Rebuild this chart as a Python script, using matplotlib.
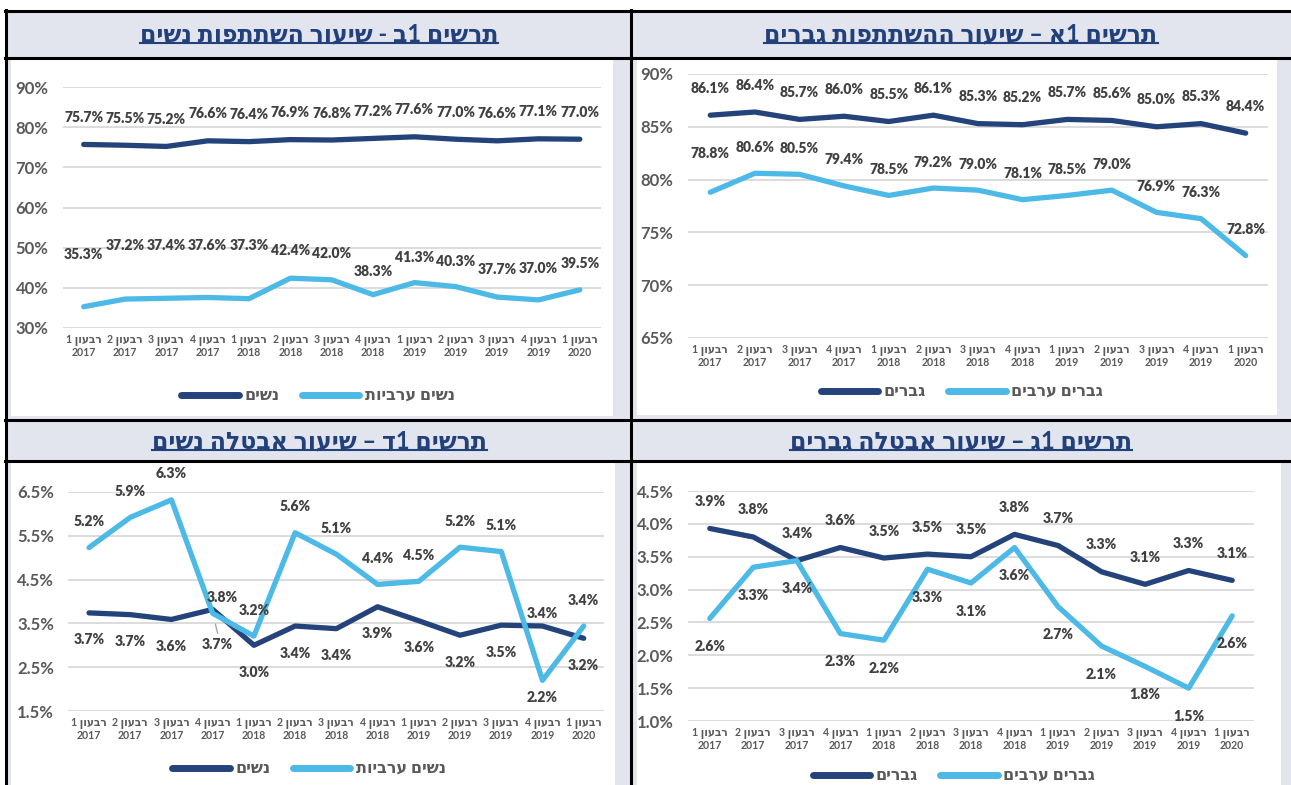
import re
import matplotlib
matplotlib.use('Agg')
import matplotlib.pyplot as plt
from matplotlib.lines import Line2D
from matplotlib.patches import Rectangle

# ---------------- data ----------------
quarters = ['רבעון 1\n2017', 'רבעון 2\n2017', 'רבעון 3\n2017', 'רבעון 4\n2017',
            'רבעון 1\n2018', 'רבעון 2\n2018', 'רבעון 3\n2018', 'רבעון 4\n2018',
            'רבעון 1\n2019', 'רבעון 2\n2019', 'רבעון 3\n2019', 'רבעון 4\n2019',
            'רבעון 1\n2020']

women_part = [75.7, 75.5, 75.2, 76.6, 76.4, 76.9, 76.8, 77.2, 77.6, 77.0, 76.6, 77.1, 77.0]
arab_women_part = [35.3, 37.2, 37.4, 37.6, 37.3, 42.4, 42.0, 38.3, 41.3, 40.3, 37.7, 37.0, 39.5]
men_part = [86.1, 86.4, 85.7, 86.0, 85.5, 86.1, 85.3, 85.2, 85.7, 85.6, 85.0, 85.3, 84.4]
arab_men_part = [78.8, 80.6, 80.5, 79.4, 78.5, 79.2, 79.0, 78.1, 78.5, 79.0, 76.9, 76.3, 72.8]
women_unemp = [3.74, 3.70, 3.59, 3.82, 3.00, 3.44, 3.38, 3.88, 3.56, 3.23, 3.46, 3.44, 3.16]
arab_women_unemp = [5.23, 5.92, 6.32, 3.73, 3.21, 5.57, 5.08, 4.39, 4.46, 5.24, 5.14, 2.20, 3.44]
men_unemp = [3.93, 3.80, 3.44, 3.64, 3.48, 3.54, 3.50, 3.84, 3.67, 3.27, 3.08, 3.29, 3.14]
arab_men_unemp = [2.56, 3.34, 3.44, 2.33, 2.23, 3.31, 3.10, 3.64, 2.74, 2.14, 1.83, 1.50, 2.60]

titles = ['תרשים 1ב - שיעור השתתפות נשים', 'תרשים 1א – שיעור ההשתתפות גברים',
          'תרשים 1ד – שיעור אבטלה נשים', 'תרשים 1ג – שיעור אבטלה גברים']
women_names = ['נשים', 'נשים ערביות']
men_names = ['גברים', 'גברים ערבים']

# ---------------- style ----------------
W, H = 1291, 785
FONT = ['Lato', 'DejaVu Sans']
plt.rcParams['font.family'] = FONT
plt.rcParams['font.weight'] = 'bold'
DARK = '#25437B'
LIGHT = '#4CB9E7'
BAND = '#E2E5EE'
GRID = '#D9D9D9'
TXT = '#595959'
LBL = '#404040'
TITLE_C = '#22407A'


def vis(s):
    """Visual (left-to-right) order for right-to-left Hebrew text."""
    out = []
    for line in s.split('\n'):
        r = line[::-1]
        r = re.sub(r'[0-9.%]+', lambda m: m.group(0)[::-1], r)
        out.append(r)
    return '\n'.join(out)


fig = plt.figure(figsize=(W / 100, H / 100), dpi=100)
fig.patch.set_facecolor('white')


def rect(x0, y0, x1, y1, color, z=0):
    fig.add_artist(Rectangle((x0 / W, 1 - y1 / H), (x1 - x0) / W, (y1 - y0) / H,
                             transform=fig.transFigure, facecolor=color,
                             edgecolor='none', zorder=z))


def fline(xs, ys, color='black', lw=2.2, z=5):
    fig.add_artist(Line2D([x / W for x in xs], [1 - y / H for y in ys],
                          transform=fig.transFigure, color=color, lw=lw, zorder=z))


# panel backgrounds
rect(7, 10, 631, 420, BAND)
rect(631, 10, W, 420, BAND)
rect(7, 420, 631, H, BAND)
rect(631, 420, W, H, BAND)
rect(11, 60, 613, 416, 'white', 1)
rect(637, 60, 1277, 415, 'white', 1)
rect(11, 463, 615, H, 'white', 1)
rect(637, 463, 1281, H, 'white', 1)

# black frame lines
for y in (10.5, 58, 420, 461):
    fline([5, W], [y, y])
fline([6, 6], [9.5, H])
fline([631, 631], [9.5, H])

# titles
title_pos = [(319, 34), (961, 34), (319, 441), (961, 441)]
title_texts = []
for t, (x, y) in zip(titles, title_pos):
    tt = fig.text(x / W, 1 - y / H, vis(t), ha='center', va='center', fontsize=17,
                  color=TITLE_C, fontweight='bold', zorder=6)
    title_texts.append(tt)


def make_axes(x0, x1, y0, y1):
    ax = fig.add_axes([x0 / W, 1 - y1 / H, (x1 - x0) / W, (y1 - y0) / H])
    ax.set_facecolor('none')
    ax.set_zorder(3)
    for s in ax.spines.values():
        s.set_visible(False)
    return ax


def draw_panel(ax, s1, s2, ylim, yticks, yfmt, off1, off2, dx1=None, dx2=None):
    x = list(range(len(quarters)))
    ax.set_xlim(-0.5, len(quarters) - 0.5)
    ax.set_ylim(*ylim)
    ax.set_yticks(yticks)
    ax.set_yticklabels([yfmt.format(v) for v in yticks], fontsize=12,
                       color=TXT, fontweight='bold')
    ax.set_xticks(x)
    ax.set_xticklabels([vis(q) for q in quarters], fontsize=7.6, color=TXT,
                       fontweight='bold', linespacing=1.15)
    ax.tick_params(axis='both', length=0)
    ax.tick_params(axis='y', pad=10.5)
    ax.tick_params(axis='x', pad=5.0)
    ax.grid(axis='y', color=GRID, lw=1.3)
    ax.set_axisbelow(True)
    ax.plot(x, s1, color=DARK, lw=3.8, solid_capstyle='round', solid_joinstyle='round', zorder=3)
    ax.plot(x, s2, color=LIGHT, lw=3.8, solid_capstyle='round', solid_joinstyle='round', zorder=4)
    for series, offs, dxs in ((s1, off1, dx1), (s2, off2, dx2)):
        for i, v in enumerate(series):
            dx = dxs[i] if dxs else 0
            ax.annotate(f'{v:.1f}%', xy=(i, v), xytext=(dx, offs[i]),
                        textcoords='offset pixels', ha='center', va='center',
                        fontsize=10, color=LBL, fontweight='heavy',
                        annotation_clip=False, zorder=6)


def add_legend(ax, names, cx, cy):
    handles = [Line2D([], [], color=DARK, lw=5, solid_capstyle='round'),
               Line2D([], [], color=LIGHT, lw=5, solid_capstyle='round')]
    leg = ax.legend(handles, [vis(n) for n in names], loc='center',
                    bbox_to_anchor=(cx / W, 1 - cy / H), bbox_transform=fig.transFigure,
                    ncol=2, frameon=False, handlelength=3.6, handletextpad=0.35,
                    columnspacing=1.4, prop={'size': 11.5, 'weight': 'bold'})
    for t in leg.get_texts():
        t.set_color(TXT)


n = len(quarters)

# panel 1 : women participation
ax1 = make_axes(63, 600.5, 87, 328)
draw_panel(ax1, women_part, arab_women_part, (30, 90), [30, 40, 50, 60, 70, 80, 90], '{:.0f}%',
           [27] * n, [52, 54, 53, 52, 53, 28, 26, 23, 25, 25, 28, 31, 26])
add_legend(ax1, women_names, 318, 396)

# panel 2 : men participation
ax2 = make_axes(688, 1268, 74, 338)
draw_panel(ax2, men_part, arab_men_part, (65, 90), [65, 70, 75, 80, 85, 90], '{:.0f}%',
           [27] * n, [39] + [26] * (n - 1))
add_legend(ax2, men_names, 962, 392)

# panel 3 : women unemployment
ax3 = make_axes(68.4, 604.3, 492, 711)
off_dark3 = [-27] * n
off_dark3[3] = 12
off_dark3[11] = 13
dx_dark3 = [0] * n
dx_dark3[3] = 10
off_light3 = [26] * n
off_light3[3] = -31
off_light3[11] = -17
dx_light3 = [0] * n
dx_light3[3] = 5
draw_panel(ax3, women_unemp, arab_women_unemp, (1.5, 6.5), [1.5, 2.5, 3.5, 4.5, 5.5, 6.5],
           '{:.1f}%', off_dark3, off_light3, dx_dark3, dx_light3)
# leader line for the displaced label
ax3.annotate('', xy=(3, arab_women_unemp[3]), xytext=(5, -20), textcoords='offset pixels',
             xycoords='data',
             arrowprops=dict(arrowstyle='-', color='#A6A6A6', lw=1, shrinkA=0, shrinkB=8),
             zorder=6)
add_legend(ax3, women_names, 309, 769)

# panel 4 : men unemployment
ax4 = make_axes(688, 1254, 491, 721)
draw_panel(ax4, men_unemp, arab_men_unemp, (1.0, 4.5), [1.0, 1.5, 2.0, 2.5, 3.0, 3.5, 4.0, 4.5],
           '{:.1f}%', [27] * n, [-28] * n)
add_legend(ax4, men_names, 954, 776)

# underline titles
fig.canvas.draw()
renderer = fig.canvas.get_renderer()
for tt in title_texts:
    bb = tt.get_window_extent(renderer)
    yy = (bb.y0 + 2.5) / H
    fig.add_artist(Line2D([bb.x0 / W, bb.x1 / W], [yy, yy], transform=fig.transFigure,
                          color=TITLE_C, lw=1.5, zorder=6))

fig.savefig('out.png', dpi=100)
